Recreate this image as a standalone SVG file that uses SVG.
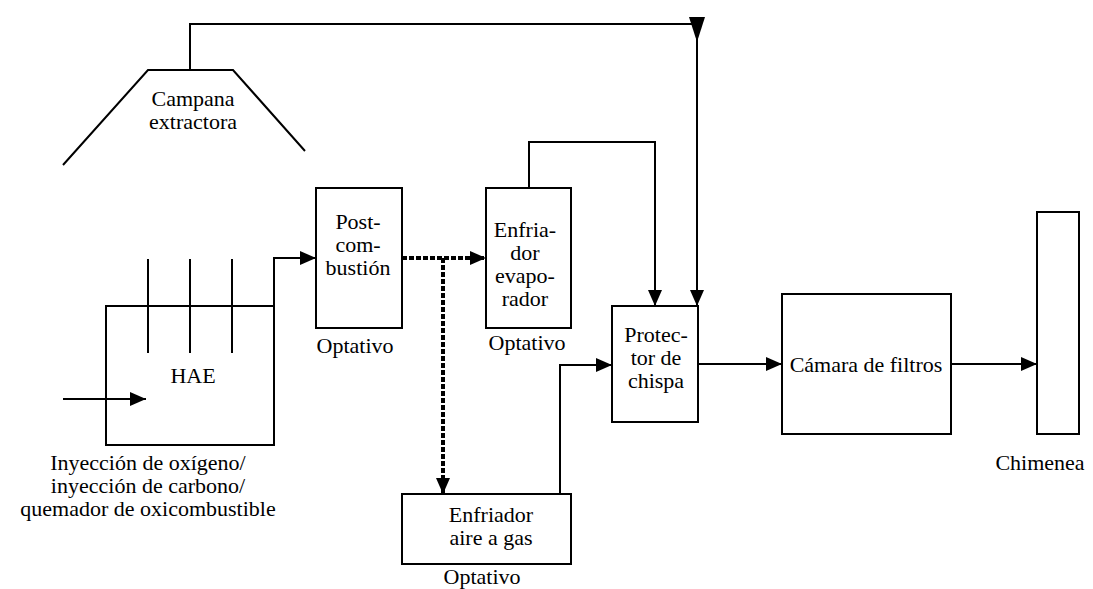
<svg xmlns="http://www.w3.org/2000/svg" width="1093" height="589" viewBox="0 0 1093 589">
<style>
.b{fill:#fff;stroke:#000;stroke-width:2}
.l{fill:none;stroke:#000;stroke-width:2}
.d{fill:none;stroke:#000;stroke-width:4;stroke-dasharray:5 2}
.t{font-family:'Liberation Serif','Times New Roman',serif;font-size:22px;fill:#000;text-anchor:middle}
</style>
<defs>
<marker id="a" viewBox="0 0 16 14" refX="16" refY="7" markerWidth="16" markerHeight="14" markerUnits="userSpaceOnUse" orient="auto"><path d="M0,0 L16,7 L0,14 z" fill="#000"/></marker>
</defs>
<g id="campana">
<polyline class="l" points="63,165 148,70 233,70 305,151"/>
<text class="t" x="193" y="106">Campana</text>
<text class="t" x="193" y="129">extractora</text>
</g>
<g id="hae">
<rect class="b" x="106" y="306" width="168" height="139"/>
<line class="l" x1="148" y1="259" x2="148" y2="353"/>
<line class="l" x1="190" y1="259" x2="190" y2="353"/>
<line class="l" x1="232" y1="259" x2="232" y2="353"/>
<text class="t" x="193" y="383">HAE</text>
</g>
<g id="inyeccion">
<text class="t" x="148" y="470">Inyección de oxígeno/</text>
<text class="t" x="148" y="493">inyección de carbono/</text>
<text class="t" x="148" y="516">quemador de oxicombustible</text>
</g>
<g id="postcombustion">
<rect class="b" x="316" y="188" width="86" height="140"/>
<text class="t" x="358" y="229">Post-</text>
<text class="t" x="358" y="252">com-</text>
<text class="t" x="358" y="275">bustión</text>
<text class="t" x="355" y="353">Optativo</text>
</g>
<g id="evaporador">
<rect class="b" x="486" y="188" width="85" height="140"/>
<text class="t" x="525" y="237">Enfria-</text>
<text class="t" x="525" y="260">dor</text>
<text class="t" x="525" y="283">evapo-</text>
<text class="t" x="525" y="306">rador</text>
<text class="t" x="527" y="350">Optativo</text>
</g>
<g id="airegas">
<rect class="b" x="402" y="494" width="169" height="70"/>
<text class="t" x="491" y="522">Enfriador</text>
<text class="t" x="491" y="545">aire a gas</text>
<text class="t" x="482" y="584">Optativo</text>
</g>
<g id="protector">
<rect class="b" x="612" y="306" width="86" height="116"/>
<text class="t" x="656" y="342">Protec-</text>
<text class="t" x="656" y="365">tor de</text>
<text class="t" x="656" y="388">chispa</text>
</g>
<g id="camara">
<rect class="b" x="782" y="294" width="169" height="140"/>
<text class="t" x="866" y="372">Cámara de filtros</text>
</g>
<g id="chimenea">
<rect class="b" x="1037" y="212" width="42" height="222"/>
<text class="t" x="1040" y="470">Chimenea</text>
</g>
<g id="connectors">
<polyline class="l" points="190,70 190,24 697,24 697,306" marker-end="url(#a)"/>
<polygon points="689,17 705,17 697,42" fill="#000"/>
<polyline class="l" points="274,306 274,258 316,258" marker-end="url(#a)"/>
<line class="l" x1="63" y1="399" x2="146" y2="399" marker-end="url(#a)"/>
<line class="d" x1="402" y1="258" x2="486" y2="258" marker-end="url(#a)"/>
<line class="d" x1="443" y1="258" x2="443" y2="494" marker-end="url(#a)"/>
<polyline class="l" points="529,188 529,142 655,142 655,306" marker-end="url(#a)"/>
<polyline class="l" points="560,494 560,365 612,365" marker-end="url(#a)"/>
<line class="l" x1="698" y1="364" x2="782" y2="364" marker-end="url(#a)"/>
<line class="l" x1="951" y1="364" x2="1037" y2="364" marker-end="url(#a)"/>
</g>
</svg>
